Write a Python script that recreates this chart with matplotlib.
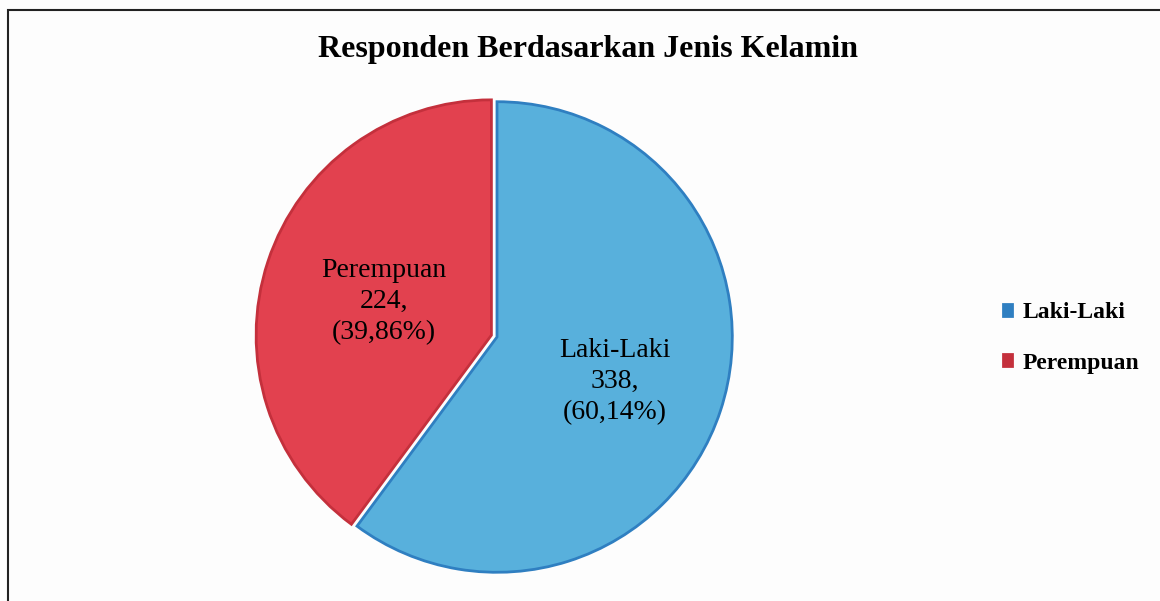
import matplotlib.pyplot as plt
from matplotlib.patches import Rectangle

labels = ['Laki-Laki', 'Perempuan']
counts = [338, 224]
percents = ['60,14%', '39,86%']
colors = ['#58b0dc', '#e2414f']
edge_colors = ['#2f7fc1', '#c4303c']

plt.rcParams['font.family'] = ['Liberation Serif', 'DejaVu Serif']

fig = plt.figure(figsize=(11.6, 6.01), dpi=100)
fig.patch.set_facecolor('#fdfdfd')

# chart frame (runs off the right and bottom edges)
fig.patches.append(Rectangle((8 / 1160, -0.05), 1.2, 1 - 10 / 601 + 0.05,
                             transform=fig.transFigure, fill=False,
                             edgecolor='#222222', linewidth=1.5))

ax = fig.add_axes([(497 - 240) / 1160, (601 - 337 - 240) / 601, 480 / 1160, 480 / 601])
wedges, _ = ax.pie(counts, colors=colors, startangle=90, counterclock=False,
                   explode=[0, 0.025],
                   wedgeprops=dict(linewidth=2))
for w, ec in zip(wedges, edge_colors):
    w.set_edgecolor(ec)
ax.set_aspect('equal')
ax.set_xlim(-1.02, 1.02)
ax.set_ylim(-1.02, 1.02)

# data labels
ax.text(0.50, -0.19, f'{labels[0]}\n{counts[0]},\n({percents[0]})',
        ha='center', va='center', fontsize=20, linespacing=1.3)
ax.text(-0.48, 0.15, f'{labels[1]}\n{counts[1]},\n({percents[1]})',
        ha='center', va='center', fontsize=20, linespacing=1.3)

fig.text(588 / 1160, 1 - 50 / 601, 'Responden Berdasarkan Jenis Kelamin',
         ha='center', va='center', fontsize=23, fontweight='bold')

leg = fig.legend(wedges, labels, loc='center left',
                 bbox_to_anchor=(1003 / 1160, 1 - 338 / 601),
                 frameon=False, borderpad=0, borderaxespad=0, handlelength=0.4,
                 handleheight=0.4, handletextpad=0.45, labelspacing=1.25,
                 prop={'weight': 'bold', 'size': 17})
for h, c in zip(leg.legend_handles, edge_colors):
    h.set_facecolor(c)
    h.set_edgecolor(c)

fig.savefig('out.png', dpi=100, facecolor=fig.get_facecolor())
